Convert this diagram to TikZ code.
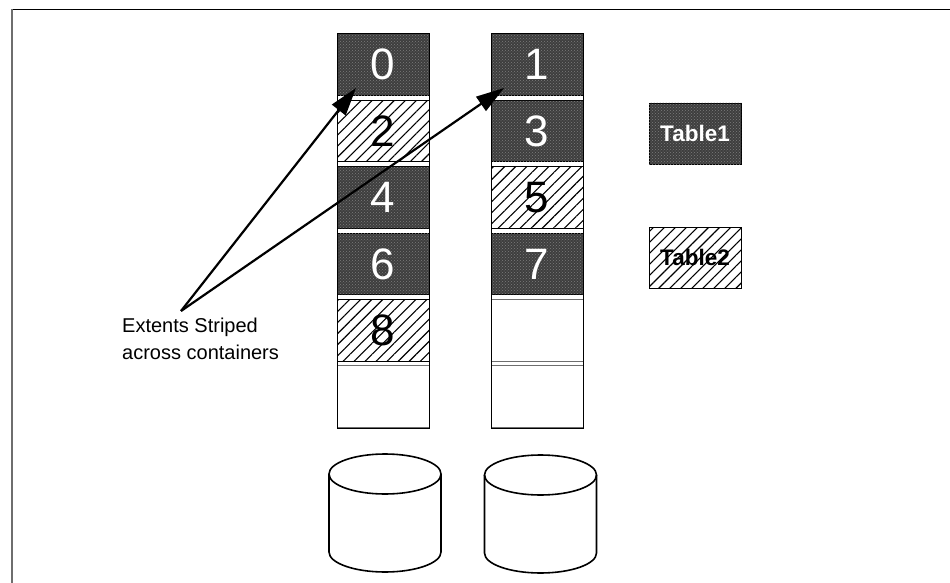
\documentclass[tikz,border=0pt]{standalone}
\usepackage{fontspec}
\setmainfont{Liberation Sans}
\usetikzlibrary{patterns,patterns.meta,arrows.meta}

\definecolor{darkfill}{RGB}{62,62,62}
\definecolor{dotgray}{RGB}{125,125,125}
\definecolor{rulegray}{RGB}{110,110,110}

\tikzset{
  cellbase/.style={minimum width=92pt, minimum height=61.5pt, inner sep=0pt,
    line width=0.6pt, font=\fontsize{44}{44}\selectfont},
  darkcell/.style={cellbase, draw=black, fill=darkfill, text=white,
    postaction={pattern=crosshatch dots, pattern color=dotgray}},
  hatchcell/.style={cellbase, draw=black, fill=white, text=black,
    postaction={pattern={Lines[angle=45,distance=7.8pt,line width=1.1pt]}}},
  emptycell/.style={cellbase, draw=rulegray},
  colframe/.style={draw=black, line width=1pt},
  legenddark/.style={darkcell, minimum width=92pt, minimum height=61pt,
    font=\fontsize{22.5}{22.5}\selectfont\bfseries},
  legendhatch/.style={hatchcell, minimum width=92pt, minimum height=61pt,
    font=\fontsize{22.5}{22.5}\selectfont\bfseries},
  cyl/.style={draw=black, line width=1.6pt},
  pointer/.style={draw=black, line width=2.2pt,
    -{Triangle[length=28pt,width=17pt]}},
}

\begin{document}
\begin{tikzpicture}[x=1pt,y=-1pt]
\useasboundingbox (0,0) rectangle (950,583);

% page frame (top and left rule)
\draw[black, line width=1pt] (12,9.5) -- (950,9.5);
\draw[rulegray, line width=1.8pt] (12,9.5) -- (12,583);

% left container
\node[darkcell]  (c0) at (383,64.5)  {0};
\node[hatchcell] (c2) at (383,131)   {2};
\node[darkcell]  (c4) at (383,197.5) {4};
\node[darkcell]  (c6) at (383,264)   {6};
\node[hatchcell] (c8) at (383,330.5) {8};
\node[emptycell] (l5) at (383,396.5) {};
\draw[colframe] (337,34) rectangle (429,428);

% right container
\node[darkcell]  (c1) at (537,64.5)  {1};
\node[darkcell]  (c3) at (537,131)   {3};
\node[hatchcell] (c5) at (537,197.5) {5};
\node[darkcell]  (c7) at (537,264)   {7};
\node[emptycell] (r4) at (537,330.5) {};
\node[emptycell] (r5) at (537,396.5) {};
\draw[colframe] (491,34) rectangle (583,428);

% legend
\node[legenddark]  (t1) at (695,133.5) {Table1};
\node[legendhatch] (t2) at (695,257.5) {Table2};

% disks
\draw[cyl] (329,474) -- (329,552) arc[start angle=180,end angle=0,x radius=56,y radius=20] -- (441,474);
\draw[cyl] (385,474) ellipse[x radius=56,y radius=20];
\draw[cyl] (484.5,475) -- (484.5,553) arc[start angle=180,end angle=0,x radius=56,y radius=20] -- (596.5,475);
\draw[cyl] (540.5,475) ellipse[x radius=56,y radius=20];

% caption and pointers
\node[anchor=north west, align=left, inner sep=0pt,
  font=\fontsize{20}{27}\selectfont] (cap) at (122,318)
  {Extents Striped\\across containers};
\coordinate (apex) at (181,311);
\coordinate (tip0) at (356,88);
\coordinate (tip1) at (504,88);
\draw[pointer] (apex) -- (tip0);
\draw[pointer] (apex) -- (tip1);
\end{tikzpicture}
\end{document}
